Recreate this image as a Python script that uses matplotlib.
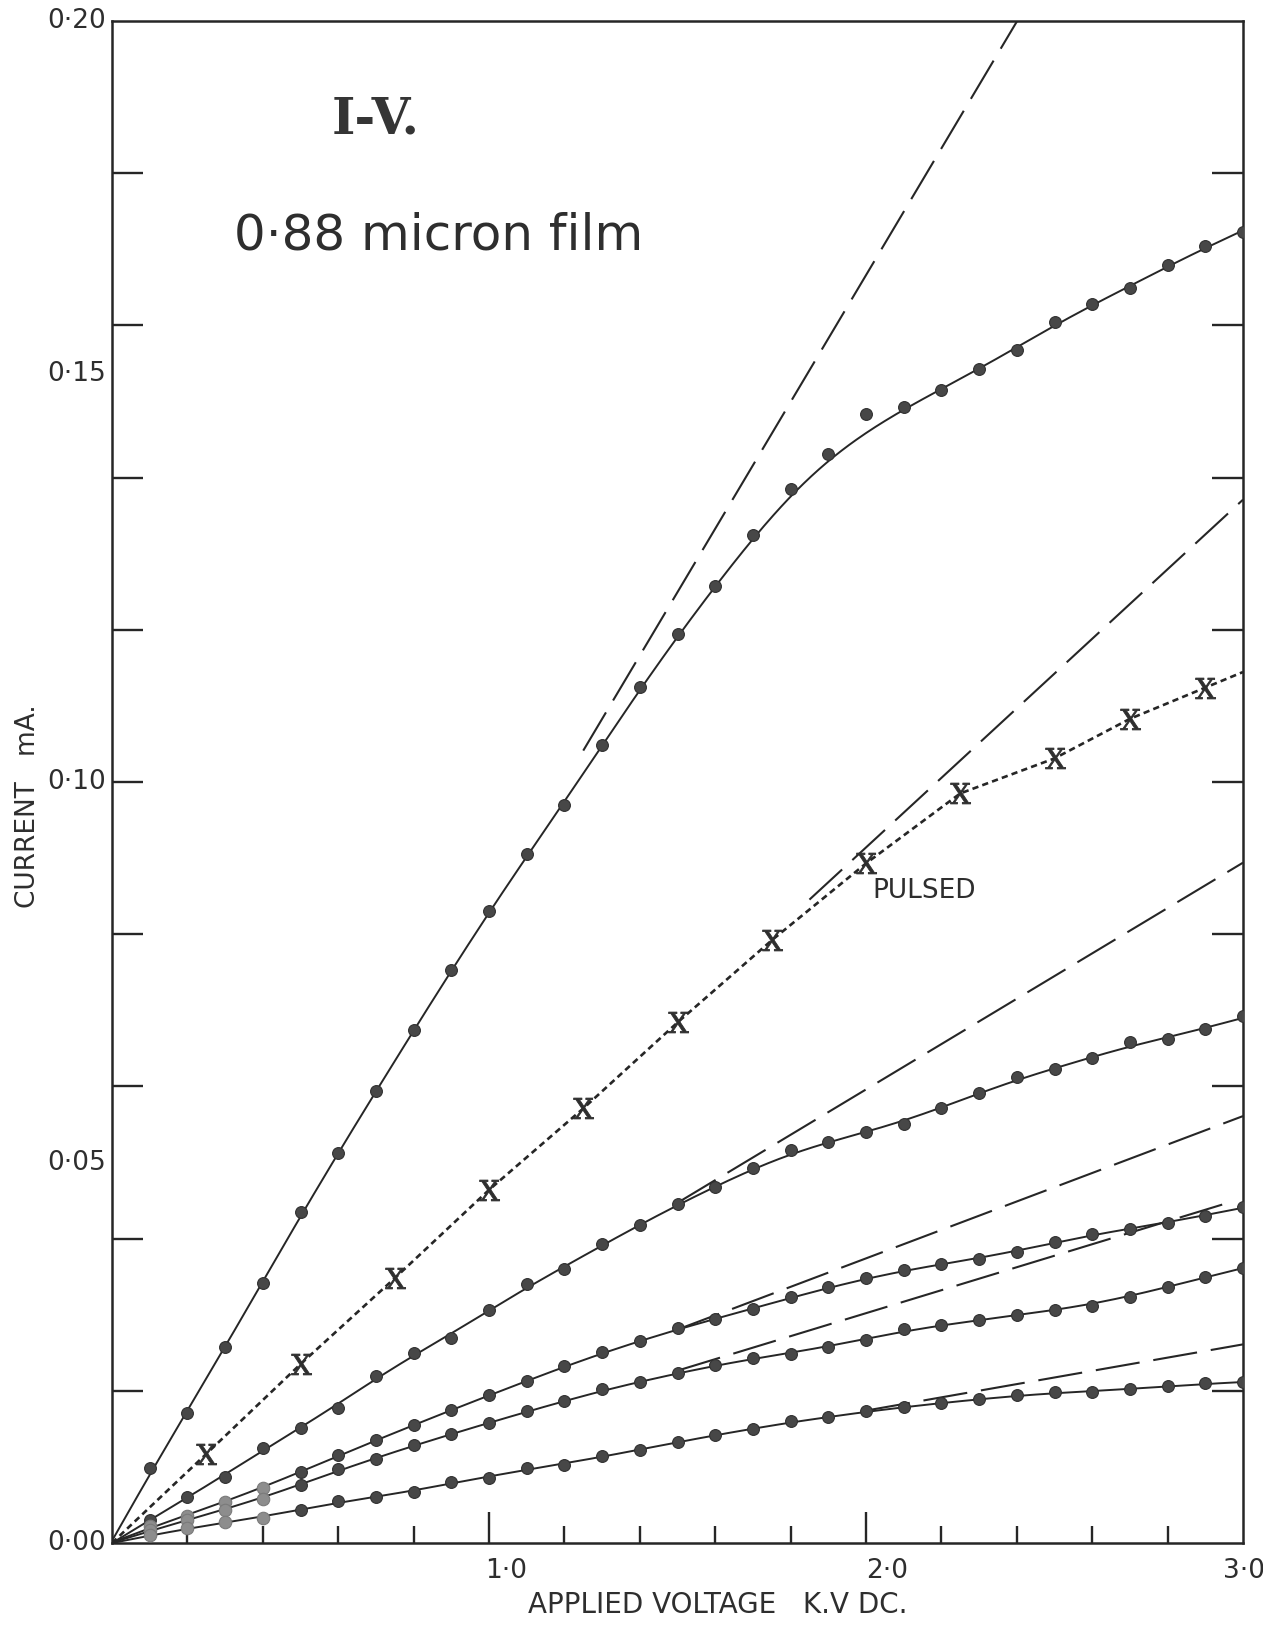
import numpy as np
import matplotlib
matplotlib.use("Agg")
import matplotlib.pyplot as plt
from matplotlib.textpath import TextPath
from matplotlib.path import Path
from matplotlib.font_manager import FontProperties
from matplotlib.markers import MarkerStyle
from matplotlib.ticker import FixedLocator

plt.rcParams['lines.scale_dashes'] = False
plt.rcParams['font.family'] = ['DejaVu Sans']

# ---------------------------------------------------------------- data
# d.c. measurements, applied voltage in kV
voltage_kv = [0.1, 0.2, 0.3, 0.4, 0.5, 0.6, 0.7, 0.8, 0.9, 1.0,
              1.1, 1.2, 1.3, 1.4, 1.5, 1.6, 1.7, 1.8, 1.9, 2.0,
              2.1, 2.2, 2.3, 2.4, 2.5, 2.6, 2.7, 2.8, 2.9, 3.0]

# current in mA for the five d.c. runs (top to bottom)
current_a = [0.0098, 0.0171, 0.0257, 0.0341, 0.0435, 0.0512, 0.0594, 0.0674, 0.0753, 0.0831,
             0.0905, 0.0970, 0.1048, 0.1125, 0.1194, 0.1257, 0.1324, 0.1385, 0.1431, 0.1484,
             0.1493, 0.1515, 0.1543, 0.1568, 0.1604, 0.1628, 0.1649, 0.1679, 0.1704, 0.1723]
current_b = [0.0030, 0.0060, 0.0087, 0.0125, 0.0151, 0.0178, 0.0220, 0.0250, 0.0270, 0.0306,
             0.0340, 0.0360, 0.0393, 0.0418, 0.0446, 0.0468, 0.0493, 0.0516, 0.0527, 0.0540,
             0.0551, 0.0572, 0.0591, 0.0612, 0.0623, 0.0637, 0.0658, 0.0662, 0.0675, 0.0692]
current_c = [0.0022, 0.0036, 0.0054, 0.0072, 0.0093, 0.0115, 0.0135, 0.0155, 0.0175, 0.0194,
             0.0213, 0.0232, 0.0251, 0.0265, 0.0282, 0.0295, 0.0307, 0.0323, 0.0336, 0.0348,
             0.0359, 0.0367, 0.0373, 0.0383, 0.0395, 0.0406, 0.0413, 0.0421, 0.0430, 0.0441]
current_d = [0.0017, 0.0030, 0.0044, 0.0058, 0.0076, 0.0097, 0.0111, 0.0129, 0.0143, 0.0158,
             0.0173, 0.0186, 0.0202, 0.0212, 0.0223, 0.0234, 0.0243, 0.0249, 0.0258, 0.0267,
             0.0281, 0.0286, 0.0293, 0.0299, 0.0306, 0.0312, 0.0323, 0.0337, 0.0349, 0.0361]
current_e = [0.0010, 0.0020, 0.0027, 0.0033, 0.0044, 0.0055, 0.0060, 0.0067, 0.0080, 0.0086,
             0.0099, 0.0102, 0.0114, 0.0122, 0.0133, 0.0142, 0.0150, 0.0160, 0.0165, 0.0173,
             0.0179, 0.0184, 0.0189, 0.0194, 0.0198, 0.0199, 0.0202, 0.0206, 0.0210, 0.0211]

# readings left off the drawn curve (stray points), per run, in kV
stray_kv = [[2.0], [], [], [], []]

# pulsed measurements
pulsed_kv = [0.25, 0.5, 0.75, 1.0, 1.25, 1.5, 1.75, 2.0, 2.25, 2.5, 2.7, 2.9]
pulsed_ma = [0.0117, 0.0235, 0.0348, 0.0464, 0.0571, 0.0684, 0.0792, 0.0893,
             0.0985, 0.1031, 0.1083, 0.1124]

# straight (ohmic) lines through the origin: slope mA/kV and drawn range in kV
ohmic_slope = [0.0833, 0.0457, 0.0298, 0.0187, 0.0151, 0.0087]
ohmic_from = [1.25, 1.85, 1.5, 1.5, 1.5, 2.0]
ohmic_to = [3.0, 3.0, 3.0, 3.0, 2.95, 3.0]

y_tick_labels = ['0·00', '0·05', '0·10', '0·15', '0·20']
y_label_values = [0.0, 0.05, 0.10, 0.15, 0.20]
x_tick_labels = ['1·0', '2·0', '3·0']
x_label_values = [1.0, 2.0, 3.0]

# ---------------------------------------------------------------- style
INK = '#262626'
DOT = '#474747'
TXT = '#2e2e2e'
W, H = 1263, 1626

fig = plt.figure(figsize=(W / 100, H / 100), dpi=100)
fig.patch.set_facecolor('white')
ax = fig.add_axes([112 / W, 1 - 1543 / H, (1243 - 112) / W, (1543 - 21) / H])
ax.set_xlim(0, 3.0)
ax.set_ylim(0, 0.2)
ax.set_facecolor('white')
for s in ax.spines.values():
    s.set_linewidth(1.8)
    s.set_color(INK)

# ticks
ax.xaxis.set_major_locator(FixedLocator([1.0, 2.0]))
ax.xaxis.set_minor_locator(FixedLocator([0.2, 0.4, 0.6, 0.8, 1.2, 1.4, 1.6, 1.8,
                                         2.2, 2.4, 2.6, 2.8]))
ax.yaxis.set_major_locator(FixedLocator([0.02, 0.04, 0.06, 0.08, 0.10, 0.12,
                                         0.14, 0.16, 0.18]))
ax.yaxis.set_minor_locator(FixedLocator([]))
ax.tick_params(axis='x', which='major', direction='in', length=22, width=1.7,
               color=INK, labelbottom=False, top=False)
ax.tick_params(axis='x', which='minor', direction='in', length=12, width=1.7,
               color=INK, top=False)
ax.tick_params(axis='y', which='major', direction='in', length=22, width=1.7,
               color=INK, left=True, right=True, labelleft=False)

# ---------------------------------------------------------------- curves
v = np.array(voltage_kv)


def smooth_curve(x, y, sigma=0.12, step=0.005):
    """Hand-drawn style smooth line through the origin and the points."""
    xx = np.concatenate([[0.0], x])
    yy = np.concatenate([[0.0], y])
    grid = np.arange(-1.0, xx[-1] + 1.0 + step / 2, step)
    base = np.interp(grid, xx, yy)
    s0 = (yy[2] - yy[0]) / (xx[2] - xx[0])
    s1 = (yy[-1] - yy[-4]) / (xx[-1] - xx[-4])
    lo = grid < xx[0]
    hi = grid > xx[-1]
    base[lo] = yy[0] + s0 * (grid[lo] - xx[0])
    base[hi] = yy[-1] + s1 * (grid[hi] - xx[-1])
    k = np.arange(-4 * sigma, 4 * sigma + step / 2, step)
    kern = np.exp(-0.5 * (k / sigma) ** 2)
    kern /= kern.sum()
    sm = np.convolve(base, kern, mode='same')
    keep = (grid >= -1e-9) & (grid <= xx[-1] + 1e-9)
    return grid[keep], sm[keep]


series = [current_a, current_b, current_c, current_d, current_e]
for k, (cur, stray) in enumerate(zip(series, stray_kv)):
    c = np.array(cur)
    on_curve = ~np.isin(np.round(v, 2), np.round(stray, 2))
    xs, ys = smooth_curve(v[on_curve], c[on_curve])
    ax.plot(xs, ys, color=INK, lw=1.4, solid_capstyle='round', zorder=3)
    if k >= 2:
        faint = 4
        ax.plot(v[:faint], c[:faint], 'o', ms=9, mfc='#8d8d8d', mec='#7a7a7a',
                mew=0.8, zorder=4)
        ax.plot(v[faint:], c[faint:], 'o', ms=8.5, mfc=DOT, mec='#303030',
                mew=0.8, zorder=4)
    else:
        ax.plot(v, c, 'o', ms=8.5, mfc=DOT, mec='#303030', mew=0.8, zorder=4)

# straight lines through origin, long dashes
for slope, x0, x1 in zip(ohmic_slope, ohmic_from, ohmic_to):
    xs = np.array([x0, x1])
    ax.plot(xs, slope * xs, color=INK, lw=1.5, dashes=(32, 10), zorder=2)

# pulsed run: short-dash line through the points, carried on to 3.0 kV
pk = np.array(pulsed_kv)
pm = np.array(pulsed_ma)
end_slope = (pm[-1] - pm[-2]) / (pk[-1] - pk[-2])
px = np.concatenate([[0.0], pk, [3.0]])
py = np.concatenate([[0.0], pm, [pm[-1] + end_slope * (3.0 - pk[-1])]])
ax.plot(px, py, color=INK, lw=1.9, dashes=(4.5, 3.0), zorder=2)

# serif "X" glyph as the pulsed marker, centred on its point
glyph = TextPath((0, 0), 'X', prop=FontProperties(family='DejaVu Serif'))
gv = glyph.vertices.copy()
gv -= (gv.min(axis=0) + gv.max(axis=0)) / 2
x_marker = MarkerStyle(Path(gv, glyph.codes))
ax.plot(pk, pm, linestyle='none', marker=x_marker, ms=15,
        mfc='#2e2e2e', mec='#2e2e2e', mew=0.6, zorder=5)

# ---------------------------------------------------------------- labels
label_font = dict(fontsize=19, color=TXT, family='DejaVu Sans')
y_label_shift = [0, 0, 0, 20, 0]
for val, lab, dy in zip(y_label_values, y_tick_labels, y_label_shift):
    ax.annotate(lab, xy=(0, val), xytext=(-4, dy), textcoords='offset points',
                ha='right', va='center', annotation_clip=False, **label_font)
x_label_shift = [12, 15, 1]
for val, lab, dx in zip(x_label_values, x_tick_labels, x_label_shift):
    ax.annotate(lab, xy=(val, 0), xytext=(dx, -20), textcoords='offset points',
                ha='center', va='center', annotation_clip=False, **label_font)

fig.text(718 / W, 1 - 1613 / H, 'APPLIED VOLTAGE   K.V DC.', ha='center',
         va='baseline', fontsize=20, color=TXT)
fig.text(28 / W, 1 - 806 / H, 'CURRENT   mA.', ha='center', va='center',
         rotation=90, fontsize=19, color=TXT)

fig.text(376 / W, 1 - 120 / H, 'I-V.', ha='center', va='center',
         family='DejaVu Serif', fontsize=36, fontweight='bold', color='#353535')
fig.text(234 / W, 1 - 249 / H, '0·88 micron film', ha='left', va='baseline',
         fontsize=36, color=TXT)
fig.text(872 / W, 1 - 898 / H, 'PULSED', ha='left', va='baseline',
         fontsize=19, color=TXT)

fig.savefig('out.png', dpi=100, facecolor='white')
